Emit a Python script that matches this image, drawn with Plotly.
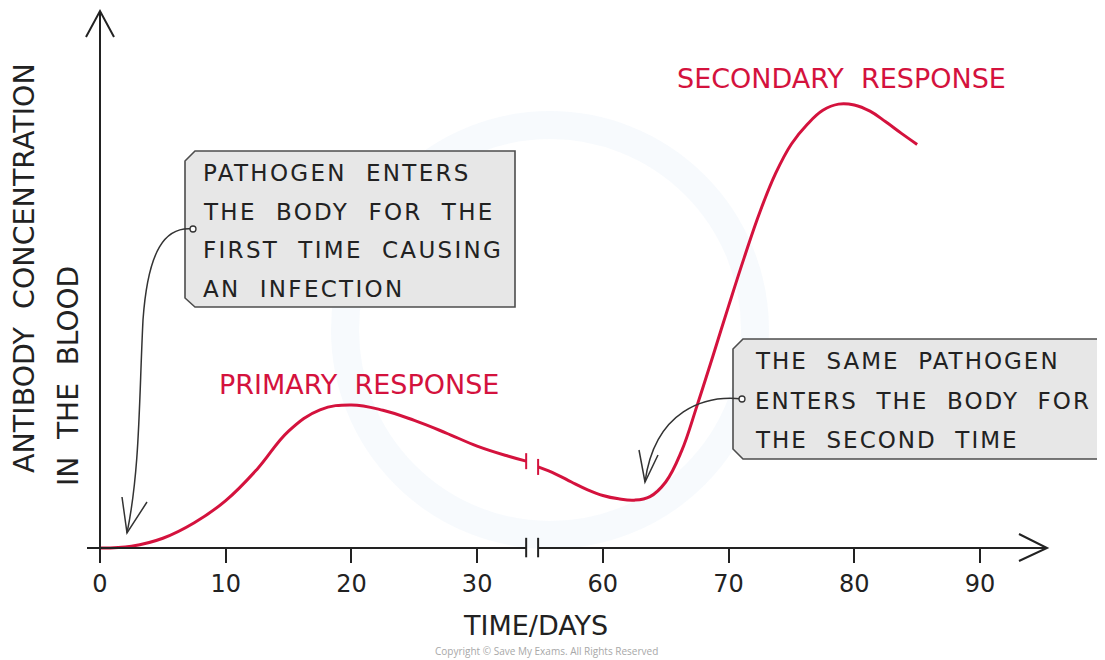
import plotly.graph_objects as go

# ---------------- data ----------------
primary_days = [0, 2.5, 5, 7.5, 10, 12.5, 15, 17.5, 20, 22.5, 25, 27.5, 30, 32.5, 33.9]
primary_conc = [0, 0.4, 2.2, 5.7, 10.7, 17.8, 26.4, 31.2, 32.3, 31.1, 28.8, 26.0, 23.0, 20.7, 19.6]

secondary_days = [54.85, 56.25, 57.5, 58.75, 60, 61.25, 62.5, 63.75, 65, 66.25, 67.5, 68.75,
                  70, 71.25, 72.5, 73.75, 75, 76.25, 77.5, 78.75, 80, 81.25, 82.5, 83.75, 85]
secondary_conc = [18.3, 16.7, 14.9, 13.2, 11.85, 11.1, 10.8, 11.6, 14.9, 21.8, 32.2, 43.3,
                  54.6, 65.6, 75.9, 84.6, 91.2, 95.6, 98.8, 100.2, 100.0, 98.6, 96.2, 93.6, 91.1]

tick_days = [0, 10, 20, 30, 60, 70, 80, 90]
tick_labels = ["0", "10", "20", "30", "60", "70", "80", "90"]

# axis break: days 35..55 are compressed out of the axis
BREAK_SHIFT = 20
BREAK_AT = 45


def to_axis(day):
    return day if day < BREAK_AT else day - BREAK_SHIFT


# ---------------- geometry ----------------
OFF = 8                      # page body margin
W, H = 1105 - OFF, 660 - OFF
ORIGIN_PX, ORIGIN_PY = 100 - OFF, 548 - OFF
PX_PER_X = 880 / 70.0
PX_PER_Y = 4.43

x_range = [-ORIGIN_PX / PX_PER_X, (W - ORIGIN_PX) / PX_PER_X]
y_range = [-(H - ORIGIN_PY) / PX_PER_Y, ORIGIN_PY / PX_PER_Y]


def PX(px):  # reference pixel -> paper
    return (px - OFF) / W


def PY(py):
    return 1 - (py - OFF) / H


def path_px(cmds):
    out = []
    for c in cmds:
        if isinstance(c, str):
            out.append(c)
        else:
            out.append(f"{PX(c[0]):.5f},{PY(c[1]):.5f}")
    return " ".join(out)


RED = "#d4123d"
INK = "#222222"
FONT = "DejaVu Sans"

fig = go.Figure()

for dd, cc in [(primary_days, primary_conc), (secondary_days, secondary_conc)]:
    fig.add_trace(go.Scatter(
        x=[to_axis(d) for d in dd], y=cc, mode="lines",
        line=dict(color=RED, width=3, shape="spline", smoothing=1.15),
        hoverinfo="skip", showlegend=False))

shapes = []

# faint watermark ring
shapes.append(dict(type="circle", xref="paper", yref="paper",
                   x0=PX(345), x1=PX(755), y0=PY(535), y1=PY(125),
                   line=dict(color="rgba(215,232,247,0.2)", width=28), layer="below"))

# break positions (from data ends)
bx1 = to_axis(primary_days[-1])
bx2 = to_axis(secondary_days[0])
dy8 = 8 / PX_PER_Y

# x axis line with gap
ax_left = -13 / PX_PER_X
ax_right = (1047 - 100) / PX_PER_X
shapes.append(dict(type="line", xref="x", yref="y", x0=ax_left, x1=bx1, y0=0, y1=0,
                   line=dict(color=INK, width=2)))
shapes.append(dict(type="line", xref="x", yref="y", x0=bx2, x1=ax_right, y0=0, y1=0,
                   line=dict(color=INK, width=2)))
for bx in (bx1, bx2):
    shapes.append(dict(type="line", xref="x", yref="y", x0=bx, x1=bx,
                       y0=-2.1, y1=2.3, line=dict(color=INK, width=2)))
# curve break bars
shapes.append(dict(type="line", xref="x", yref="y", x0=bx1, x1=bx1,
                   y0=primary_conc[-1] - dy8, y1=primary_conc[-1] + dy8,
                   line=dict(color=RED, width=2)))
shapes.append(dict(type="line", xref="x", yref="y", x0=bx2, x1=bx2,
                   y0=secondary_conc[0] - dy8, y1=secondary_conc[0] + dy8,
                   line=dict(color=RED, width=2)))

# y axis line
shapes.append(dict(type="line", xref="x", yref="y", x0=0, x1=0, y0=0,
                   y1=(548 - 11) / PX_PER_Y, line=dict(color=INK, width=2)))

# axis arrowheads
shapes.append(dict(type="path", xref="paper", yref="paper",
                   path=path_px(["M", (86, 37), "L", (100, 11), "L", (114, 37)]),
                   line=dict(color=INK, width=2)))
shapes.append(dict(type="path", xref="paper", yref="paper",
                   path=path_px(["M", (1019, 534), "L", (1047, 548), "L", (1019, 561)]),
                   line=dict(color=INK, width=2)))

# callout boxes
BOX_FILL = "#e7e7e7"
BOX_LINE = "#4d4d4d"
shapes.append(dict(type="path", xref="paper", yref="paper",
                   path=path_px(["M", (195, 151), "L", (515, 151), "L", (515, 307), "L", (195, 307),
                                 "L", (185, 298), "L", (185, 161), "Z"]),
                   fillcolor=BOX_FILL, line=dict(color=BOX_LINE, width=1.6)))
shapes.append(dict(type="path", xref="paper", yref="paper",
                   path=path_px(["M", (743, 339), "L", (1112, 339), "L", (1112, 459), "L", (743, 459),
                                 "L", (733, 449), "L", (733, 349), "Z"]),
                   fillcolor=BOX_FILL, line=dict(color=BOX_LINE, width=1.6)))

# callout arrows
ARR = "#333333"
shapes.append(dict(type="path", xref="paper", yref="paper",
                   path=path_px(["M", (193, 229), "C", (165, 226), (148, 250), (143, 320),
                                 "C", (139, 400), (140, 470), (127, 533)]),
                   line=dict(color=ARR, width=1.5)))
shapes.append(dict(type="path", xref="paper", yref="paper",
                   path=path_px(["M", (122, 497), "L", (127, 533), "L", (147, 502)]),
                   line=dict(color=ARR, width=1.5)))
shapes.append(dict(type="path", xref="paper", yref="paper",
                   path=path_px(["M", (742, 399), "C", (705, 395), (655, 410), (645, 482)]),
                   line=dict(color=ARR, width=1.5)))
shapes.append(dict(type="path", xref="paper", yref="paper",
                   path=path_px(["M", (639, 450), "L", (645, 482), "L", (658, 455)]),
                   line=dict(color=ARR, width=1.5)))
for (cx, cy) in [(193, 229), (742, 399)]:
    shapes.append(dict(type="circle", xref="paper", yref="paper",
                       x0=PX(cx - 3), x1=PX(cx + 3), y0=PY(cy + 3), y1=PY(cy - 3),
                       fillcolor="white", line=dict(color=ARR, width=1.3)))

annotations = []
NB = "\u00a0\u00a0"


def spaced(s, ls):
    return f'<span style="letter-spacing:{ls}px">' + s.replace(" ", NB) + "</span>"


def text_px(x, y, s, size, color=INK, xanchor="left", angle=0, ls=0.0):
    annotations.append(dict(xref="paper", yref="paper", x=PX(x), y=PY(y),
                            text=spaced(s, ls), showarrow=False, xanchor=xanchor,
                            yanchor="middle", textangle=angle,
                            font=dict(family=FONT, size=size, color=color)))


box1_lines = ["PATHOGEN ENTERS", "THE BODY FOR THE", "FIRST TIME CAUSING", "AN INFECTION"]
box2_lines = ["THE SAME PATHOGEN", "ENTERS THE BODY FOR", "THE SECOND TIME"]
for i, s in enumerate(box1_lines):
    text_px(201, 173 + 38.5 * i, s, 23, ls=2.3)
for i, s in enumerate(box2_lines):
    text_px(753, 361 + 39.5 * i, s, 23, ls=2.0)

text_px(359, 384, "PRIMARY RESPONSE", 27, color=RED, xanchor="center")
text_px(841, 78, "SECONDARY RESPONSE", 27, color=RED, xanchor="center")
text_px(535, 625, "TIME/DAYS", 27, xanchor="center")
text_px(25, 268, "ANTIBODY CONCENTRATION", 28.5, xanchor="center", angle=-90)
text_px(68, 376, "IN THE BLOOD", 28, xanchor="center", angle=-90)

annotations.append(dict(xref="paper", yref="paper", x=PX(546), y=PY(651),
                        text="Copyright © Save My Exams. All Rights Reserved",
                        showarrow=False, xanchor="center", yanchor="middle",
                        font=dict(family="Open Sans", size=10, color="#a8a8a8")))

fig.update_layout(
    width=W, height=H,
    margin=dict(l=0, r=0, t=0, b=0),
    paper_bgcolor="white", plot_bgcolor="white",
    shapes=shapes, annotations=annotations,
    xaxis=dict(range=x_range, showgrid=False, zeroline=False, showline=False,
               tickmode="array", tickvals=[to_axis(d) for d in tick_days], ticktext=tick_labels,
               ticks="outside", ticklen=14, tickwidth=2, tickcolor=INK,
               tickfont=dict(family=FONT, size=24, color=INK),
               anchor="free", position=(H - ORIGIN_PY) / H, fixedrange=True),
    yaxis=dict(range=y_range, visible=False, fixedrange=True),
    showlegend=False,
)

fig.write_html("out.html")
